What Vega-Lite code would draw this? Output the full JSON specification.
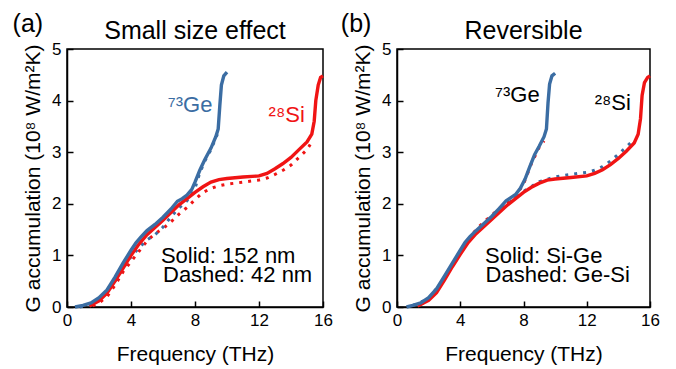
{
  "$schema": "https://vega.github.io/schema/vega-lite/v6.json",
  "padding": {"left": 11, "top": 11, "right": 10, "bottom": 2},
  "spacing": 6,
  "datasets": {
    "a": [
      {"series": "Si dashed", "f": 1.6, "g": 0.02}, {"series": "Si dashed", "f": 2.0, "g": 0.08}, {"series": "Si dashed", "f": 2.5, "g": 0.2}, {"series": "Si dashed", "f": 3.0, "g": 0.42}, {"series": "Si dashed", "f": 3.5, "g": 0.68}, {"series": "Si dashed", "f": 4.0, "g": 0.88}, {"series": "Si dashed", "f": 4.5, "g": 1.08}, {"series": "Si dashed", "f": 5.0, "g": 1.28}, {"series": "Si dashed", "f": 5.5, "g": 1.42}, {"series": "Si dashed", "f": 6.0, "g": 1.52}, {"series": "Si dashed", "f": 6.5, "g": 1.65}, {"series": "Si dashed", "f": 7.0, "g": 1.8}, {"series": "Si dashed", "f": 7.5, "g": 1.93}, {"series": "Si dashed", "f": 8.0, "g": 2.08}, {"series": "Si dashed", "f": 8.5, "g": 2.22}, {"series": "Si dashed", "f": 9.0, "g": 2.3}, {"series": "Si dashed", "f": 9.5, "g": 2.35}, {"series": "Si dashed", "f": 10.0, "g": 2.38}, {"series": "Si dashed", "f": 11.0, "g": 2.42}, {"series": "Si dashed", "f": 12.0, "g": 2.46}, {"series": "Si dashed", "f": 12.5, "g": 2.5}, {"series": "Si dashed", "f": 13.0, "g": 2.57}, {"series": "Si dashed", "f": 13.5, "g": 2.65}, {"series": "Si dashed", "f": 14.0, "g": 2.75}, {"series": "Si dashed", "f": 14.5, "g": 2.9}, {"series": "Si dashed", "f": 15.0, "g": 3.05}, {"series": "Si dashed", "f": 15.2, "g": 3.15},
      {"series": "Ge dashed", "f": 0.8, "g": 0.0}, {"series": "Ge dashed", "f": 1.5, "g": 0.05}, {"series": "Ge dashed", "f": 2.0, "g": 0.14}, {"series": "Ge dashed", "f": 2.5, "g": 0.28}, {"series": "Ge dashed", "f": 3.0, "g": 0.5}, {"series": "Ge dashed", "f": 3.5, "g": 0.75}, {"series": "Ge dashed", "f": 4.0, "g": 0.97}, {"series": "Ge dashed", "f": 4.5, "g": 1.15}, {"series": "Ge dashed", "f": 5.0, "g": 1.3}, {"series": "Ge dashed", "f": 5.5, "g": 1.4}, {"series": "Ge dashed", "f": 6.0, "g": 1.55}, {"series": "Ge dashed", "f": 6.5, "g": 1.75}, {"series": "Ge dashed", "f": 7.0, "g": 1.92}, {"series": "Ge dashed", "f": 7.5, "g": 2.06}, {"series": "Ge dashed", "f": 8.0, "g": 2.3}, {"series": "Ge dashed", "f": 8.3, "g": 2.6}, {"series": "Ge dashed", "f": 8.6, "g": 2.82}, {"series": "Ge dashed", "f": 9.0, "g": 3.05}, {"series": "Ge dashed", "f": 9.4, "g": 3.35},
      {"series": "Si solid", "f": 1.4, "g": 0.02}, {"series": "Si solid", "f": 2.0, "g": 0.12}, {"series": "Si solid", "f": 2.5, "g": 0.27}, {"series": "Si solid", "f": 3.0, "g": 0.5}, {"series": "Si solid", "f": 3.5, "g": 0.75}, {"series": "Si solid", "f": 4.0, "g": 1.0}, {"series": "Si solid", "f": 4.5, "g": 1.22}, {"series": "Si solid", "f": 5.0, "g": 1.4}, {"series": "Si solid", "f": 5.5, "g": 1.54}, {"series": "Si solid", "f": 6.0, "g": 1.68}, {"series": "Si solid", "f": 6.5, "g": 1.83}, {"series": "Si solid", "f": 7.0, "g": 1.98}, {"series": "Si solid", "f": 7.5, "g": 2.1}, {"series": "Si solid", "f": 8.0, "g": 2.22}, {"series": "Si solid", "f": 8.5, "g": 2.33}, {"series": "Si solid", "f": 9.0, "g": 2.42}, {"series": "Si solid", "f": 9.5, "g": 2.47}, {"series": "Si solid", "f": 10.0, "g": 2.49}, {"series": "Si solid", "f": 11.0, "g": 2.52}, {"series": "Si solid", "f": 12.0, "g": 2.54}, {"series": "Si solid", "f": 12.5, "g": 2.59}, {"series": "Si solid", "f": 13.0, "g": 2.68}, {"series": "Si solid", "f": 13.5, "g": 2.78}, {"series": "Si solid", "f": 14.0, "g": 2.9}, {"series": "Si solid", "f": 14.5, "g": 3.05}, {"series": "Si solid", "f": 15.0, "g": 3.2}, {"series": "Si solid", "f": 15.3, "g": 3.35}, {"series": "Si solid", "f": 15.45, "g": 3.6}, {"series": "Si solid", "f": 15.55, "g": 4.0}, {"series": "Si solid", "f": 15.7, "g": 4.3}, {"series": "Si solid", "f": 15.85, "g": 4.45}, {"series": "Si solid", "f": 16.0, "g": 4.48},
      {"series": "Ge solid", "f": 0.5, "g": 0.0}, {"series": "Ge solid", "f": 1.0, "g": 0.03}, {"series": "Ge solid", "f": 1.5, "g": 0.08}, {"series": "Ge solid", "f": 2.0, "g": 0.18}, {"series": "Ge solid", "f": 2.5, "g": 0.33}, {"series": "Ge solid", "f": 3.0, "g": 0.58}, {"series": "Ge solid", "f": 3.5, "g": 0.85}, {"series": "Ge solid", "f": 4.0, "g": 1.1}, {"series": "Ge solid", "f": 4.3, "g": 1.24}, {"series": "Ge solid", "f": 4.6, "g": 1.35}, {"series": "Ge solid", "f": 5.0, "g": 1.48}, {"series": "Ge solid", "f": 5.5, "g": 1.6}, {"series": "Ge solid", "f": 6.0, "g": 1.74}, {"series": "Ge solid", "f": 6.5, "g": 1.9}, {"series": "Ge solid", "f": 6.9, "g": 2.05}, {"series": "Ge solid", "f": 7.2, "g": 2.1}, {"series": "Ge solid", "f": 7.5, "g": 2.17}, {"series": "Ge solid", "f": 7.8, "g": 2.28}, {"series": "Ge solid", "f": 8.0, "g": 2.42}, {"series": "Ge solid", "f": 8.3, "g": 2.65}, {"series": "Ge solid", "f": 8.6, "g": 2.85}, {"series": "Ge solid", "f": 9.0, "g": 3.08}, {"series": "Ge solid", "f": 9.3, "g": 3.3}, {"series": "Ge solid", "f": 9.45, "g": 3.45}, {"series": "Ge solid", "f": 9.55, "g": 3.9}, {"series": "Ge solid", "f": 9.65, "g": 4.3}, {"series": "Ge solid", "f": 9.8, "g": 4.48}, {"series": "Ge solid", "f": 10.0, "g": 4.55}
    ],
    "b": [
      {"series": "Si dashed", "f": 1.5, "g": 0.05}, {"series": "Si dashed", "f": 2.0, "g": 0.15}, {"series": "Si dashed", "f": 2.5, "g": 0.3}, {"series": "Si dashed", "f": 3.0, "g": 0.55}, {"series": "Si dashed", "f": 3.5, "g": 0.82}, {"series": "Si dashed", "f": 4.0, "g": 1.07}, {"series": "Si dashed", "f": 4.5, "g": 1.3}, {"series": "Si dashed", "f": 5.0, "g": 1.5}, {"series": "Si dashed", "f": 5.5, "g": 1.65}, {"series": "Si dashed", "f": 6.0, "g": 1.78}, {"series": "Si dashed", "f": 6.5, "g": 1.92}, {"series": "Si dashed", "f": 7.0, "g": 2.04}, {"series": "Si dashed", "f": 7.5, "g": 2.15}, {"series": "Si dashed", "f": 8.0, "g": 2.38}, {"series": "Si dashed", "f": 8.5, "g": 2.78}, {"series": "Si dashed", "f": 9.0, "g": 3.1}, {"series": "Si dashed", "f": 9.3, "g": 3.22},
      {"series": "Ge dashed", "f": 1.0, "g": 0.03}, {"series": "Ge dashed", "f": 2.0, "g": 0.16}, {"series": "Ge dashed", "f": 3.0, "g": 0.56}, {"series": "Ge dashed", "f": 4.0, "g": 1.06}, {"series": "Ge dashed", "f": 5.0, "g": 1.45}, {"series": "Ge dashed", "f": 6.0, "g": 1.72}, {"series": "Ge dashed", "f": 7.0, "g": 2.0}, {"series": "Ge dashed", "f": 8.0, "g": 2.24}, {"series": "Ge dashed", "f": 9.0, "g": 2.43}, {"series": "Ge dashed", "f": 10.0, "g": 2.52}, {"series": "Ge dashed", "f": 10.5, "g": 2.55}, {"series": "Ge dashed", "f": 11.0, "g": 2.57}, {"series": "Ge dashed", "f": 11.5, "g": 2.59}, {"series": "Ge dashed", "f": 12.0, "g": 2.61}, {"series": "Ge dashed", "f": 12.5, "g": 2.65}, {"series": "Ge dashed", "f": 13.0, "g": 2.72}, {"series": "Ge dashed", "f": 13.5, "g": 2.83}, {"series": "Ge dashed", "f": 14.0, "g": 2.96}, {"series": "Ge dashed", "f": 14.5, "g": 3.1}, {"series": "Ge dashed", "f": 15.0, "g": 3.25},
      {"series": "Si solid", "f": 1.3, "g": 0.02}, {"series": "Si solid", "f": 2.0, "g": 0.13}, {"series": "Si solid", "f": 2.5, "g": 0.28}, {"series": "Si solid", "f": 3.0, "g": 0.52}, {"series": "Si solid", "f": 3.5, "g": 0.78}, {"series": "Si solid", "f": 4.0, "g": 1.02}, {"series": "Si solid", "f": 4.5, "g": 1.25}, {"series": "Si solid", "f": 5.0, "g": 1.42}, {"series": "Si solid", "f": 5.5, "g": 1.56}, {"series": "Si solid", "f": 6.0, "g": 1.7}, {"series": "Si solid", "f": 6.5, "g": 1.84}, {"series": "Si solid", "f": 7.0, "g": 1.98}, {"series": "Si solid", "f": 7.5, "g": 2.1}, {"series": "Si solid", "f": 8.0, "g": 2.22}, {"series": "Si solid", "f": 8.5, "g": 2.32}, {"series": "Si solid", "f": 9.0, "g": 2.4}, {"series": "Si solid", "f": 9.5, "g": 2.46}, {"series": "Si solid", "f": 10.0, "g": 2.48}, {"series": "Si solid", "f": 11.0, "g": 2.51}, {"series": "Si solid", "f": 12.0, "g": 2.54}, {"series": "Si solid", "f": 12.5, "g": 2.59}, {"series": "Si solid", "f": 13.0, "g": 2.66}, {"series": "Si solid", "f": 13.5, "g": 2.76}, {"series": "Si solid", "f": 14.0, "g": 2.88}, {"series": "Si solid", "f": 14.5, "g": 3.02}, {"series": "Si solid", "f": 15.0, "g": 3.18}, {"series": "Si solid", "f": 15.25, "g": 3.35}, {"series": "Si solid", "f": 15.4, "g": 3.65}, {"series": "Si solid", "f": 15.5, "g": 4.1}, {"series": "Si solid", "f": 15.65, "g": 4.35}, {"series": "Si solid", "f": 15.85, "g": 4.45}, {"series": "Si solid", "f": 16.0, "g": 4.48},
      {"series": "Ge solid", "f": 0.6, "g": 0.0}, {"series": "Ge solid", "f": 1.0, "g": 0.03}, {"series": "Ge solid", "f": 1.5, "g": 0.08}, {"series": "Ge solid", "f": 2.0, "g": 0.18}, {"series": "Ge solid", "f": 2.5, "g": 0.35}, {"series": "Ge solid", "f": 3.0, "g": 0.6}, {"series": "Ge solid", "f": 3.5, "g": 0.85}, {"series": "Ge solid", "f": 4.0, "g": 1.1}, {"series": "Ge solid", "f": 4.3, "g": 1.25}, {"series": "Ge solid", "f": 4.6, "g": 1.36}, {"series": "Ge solid", "f": 5.0, "g": 1.48}, {"series": "Ge solid", "f": 5.5, "g": 1.62}, {"series": "Ge solid", "f": 6.0, "g": 1.76}, {"series": "Ge solid", "f": 6.5, "g": 1.92}, {"series": "Ge solid", "f": 6.9, "g": 2.06}, {"series": "Ge solid", "f": 7.2, "g": 2.12}, {"series": "Ge solid", "f": 7.5, "g": 2.18}, {"series": "Ge solid", "f": 7.8, "g": 2.3}, {"series": "Ge solid", "f": 8.1, "g": 2.48}, {"series": "Ge solid", "f": 8.4, "g": 2.72}, {"series": "Ge solid", "f": 8.7, "g": 2.95}, {"series": "Ge solid", "f": 9.0, "g": 3.12}, {"series": "Ge solid", "f": 9.3, "g": 3.3}, {"series": "Ge solid", "f": 9.45, "g": 3.45}, {"series": "Ge solid", "f": 9.55, "g": 3.95}, {"series": "Ge solid", "f": 9.65, "g": 4.32}, {"series": "Ge solid", "f": 9.8, "g": 4.48}, {"series": "Ge solid", "f": 10.0, "g": 4.53}
    ],
    "la": [
      {"text": "(a)", "f": -3.4, "g": 5.33, "kind": "panel"},
      {"text": "⁷³Ge", "f": 6.3, "g": 3.78, "kind": "Ge"},
      {"text": "²⁸Si", "f": 12.6, "g": 3.59, "kind": "Si"},
      {"text": "Solid: 152 nm", "f": 5.87, "g": 0.86, "kind": "note"},
      {"text": "Dashed: 42 nm", "f": 6.0, "g": 0.49, "kind": "note"}
    ],
    "lb": [
      {"text": "(b)", "f": -3.55, "g": 5.33, "kind": "panel"},
      {"text": "⁷³Ge", "f": 6.2, "g": 3.97, "kind": "note"},
      {"text": "²⁸Si", "f": 12.5, "g": 3.81, "kind": "note"},
      {"text": "Solid: Si-Ge", "f": 5.57, "g": 0.86, "kind": "note"},
      {"text": "Dashed: Ge-Si", "f": 5.6, "g": 0.49, "kind": "note"}
    ]
  },
  "hconcat": [
    {
      "width": 256,
      "height": 258,
      "title": {"text": "Small size effect"},
      "layer": [
        {
          "data": {"name": "a"},
          "transform": [{"filter": "indexof(datum.series, 'dashed') >= 0"}],
          "mark": {"type": "line", "strokeWidth": 3, "strokeDash": [3, 6], "strokeCap": "butt"},
          "encoding": {
            "x": {"field": "f", "type": "quantitative", "scale": {"domain": [0, 16], "nice": false}, "axis": {"title": "Frequency (THz)", "values": [0,1,2,3,4,5,6,7,8,9,10,11,12,13,14,15,16], "labelExpr": "datum.value % 2 === 0 ? datum.label : ''"}},
            "y": {"field": "g", "type": "quantitative", "scale": {"domain": [0, 5], "nice": false}, "axis": {"title": "G accumulation (10⁸ W/m²K)", "format": ".0f", "values": [0,0.5,1,1.5,2,2.5,3,3.5,4,4.5,5], "labelExpr": "datum.value % 1 === 0 ? datum.label : ''"}},
            "color": {"field": "series", "type": "nominal", "scale": {"domain": ["Ge solid", "Ge dashed", "Si solid", "Si dashed"], "range": ["#3b6da3", "#3b6da3", "#f01414", "#f01414"]}, "legend": null}
          }
        },
        {
          "data": {"name": "a"},
          "transform": [{"filter": "indexof(datum.series, 'solid') >= 0"}],
          "mark": {"type": "line", "strokeWidth": 3.4},
          "encoding": {
            "x": {"field": "f", "type": "quantitative"},
            "y": {"field": "g", "type": "quantitative"},
            "color": {"field": "series", "type": "nominal", "legend": null}
          }
        },
        {
          "data": {"name": "la"},
          "transform": [{"filter": "datum.kind === 'panel'"}],
          "mark": {"type": "text", "align": "left", "baseline": "alphabetic", "fontSize": 25, "fill": "#000000"},
          "encoding": {"x": {"field": "f", "type": "quantitative"}, "y": {"field": "g", "type": "quantitative"}, "text": {"field": "text"}}
        },
        {
          "data": {"name": "la"},
          "transform": [{"filter": "datum.kind === 'Ge'"}],
          "mark": {"type": "text", "align": "left", "baseline": "alphabetic", "fontSize": 22, "fill": "#3b6da3"},
          "encoding": {"x": {"field": "f", "type": "quantitative"}, "y": {"field": "g", "type": "quantitative"}, "text": {"field": "text"}}
        },
        {
          "data": {"name": "la"},
          "transform": [{"filter": "datum.kind === 'Si'"}],
          "mark": {"type": "text", "align": "left", "baseline": "alphabetic", "fontSize": 22, "fill": "#f01414"},
          "encoding": {"x": {"field": "f", "type": "quantitative"}, "y": {"field": "g", "type": "quantitative"}, "text": {"field": "text"}}
        },
        {
          "data": {"name": "la"},
          "transform": [{"filter": "datum.kind === 'note'"}],
          "mark": {"type": "text", "align": "left", "baseline": "alphabetic", "fontSize": 22, "fill": "#000000"},
          "encoding": {"x": {"field": "f", "type": "quantitative"}, "y": {"field": "g", "type": "quantitative"}, "text": {"field": "text"}}
        }
      ]
    },
    {
      "width": 253,
      "height": 258,
      "title": {"text": "Reversible"},
      "layer": [
        {
          "data": {"name": "b"},
          "transform": [{"filter": "indexof(datum.series, 'dashed') >= 0"}],
          "mark": {"type": "line", "strokeWidth": 3, "strokeDash": [3, 6], "strokeCap": "butt"},
          "encoding": {
            "x": {"field": "f", "type": "quantitative", "scale": {"domain": [0, 16], "nice": false}, "axis": {"title": "Frequency (THz)", "values": [0,1,2,3,4,5,6,7,8,9,10,11,12,13,14,15,16], "labelExpr": "datum.value % 2 === 0 ? datum.label : ''"}},
            "y": {"field": "g", "type": "quantitative", "scale": {"domain": [0, 5], "nice": false}, "axis": {"title": "G accumulation (10⁸ W/m²K)", "format": ".0f", "values": [0,0.5,1,1.5,2,2.5,3,3.5,4,4.5,5], "labelExpr": "datum.value % 1 === 0 ? datum.label : ''"}},
            "color": {"field": "series", "type": "nominal", "scale": {"domain": ["Ge solid", "Ge dashed", "Si solid", "Si dashed"], "range": ["#3b6da3", "#3b6da3", "#f01414", "#f01414"]}, "legend": null}
          }
        },
        {
          "data": {"name": "b"},
          "transform": [{"filter": "indexof(datum.series, 'solid') >= 0"}],
          "mark": {"type": "line", "strokeWidth": 3.4},
          "encoding": {
            "x": {"field": "f", "type": "quantitative"},
            "y": {"field": "g", "type": "quantitative"},
            "color": {"field": "series", "type": "nominal", "legend": null}
          }
        },
        {
          "data": {"name": "lb"},
          "transform": [{"filter": "datum.kind === 'panel'"}],
          "mark": {"type": "text", "align": "left", "baseline": "alphabetic", "fontSize": 25, "fill": "#000000"},
          "encoding": {"x": {"field": "f", "type": "quantitative"}, "y": {"field": "g", "type": "quantitative"}, "text": {"field": "text"}}
        },
        {
          "data": {"name": "lb"},
          "transform": [{"filter": "datum.kind === 'note'"}],
          "mark": {"type": "text", "align": "left", "baseline": "alphabetic", "fontSize": 22, "fill": "#000000"},
          "encoding": {"x": {"field": "f", "type": "quantitative"}, "y": {"field": "g", "type": "quantitative"}, "text": {"field": "text"}}
        }
      ]
    }
  ],
  "config": {
    "font": "Liberation Sans",
    "view": {"stroke": "#000000", "strokeWidth": 1.5},
    "title": {"fontSize": 25, "fontWeight": "normal", "color": "#000000", "offset": -32, "anchor": "middle"},
    "axis": {
      "grid": false,
      "domainColor": "#000000",
      "domainWidth": 1.5,
      "tickColor": "#000000",
      "tickWidth": 1.5,
      "tickSize": -6,
      "labelFontSize": 17,
      "labelColor": "#000000",
      "labelPadding": 12,
      "titleFontSize": 21,
      "titleFontWeight": "normal",
      "titleColor": "#000000",
      "labelFlush": false,
      "labelOverlap": false
    },
    "axisX": {"labelPadding": 11, "titlePadding": 15},
    "axisY": {"titlePadding": 8}
  }
}
